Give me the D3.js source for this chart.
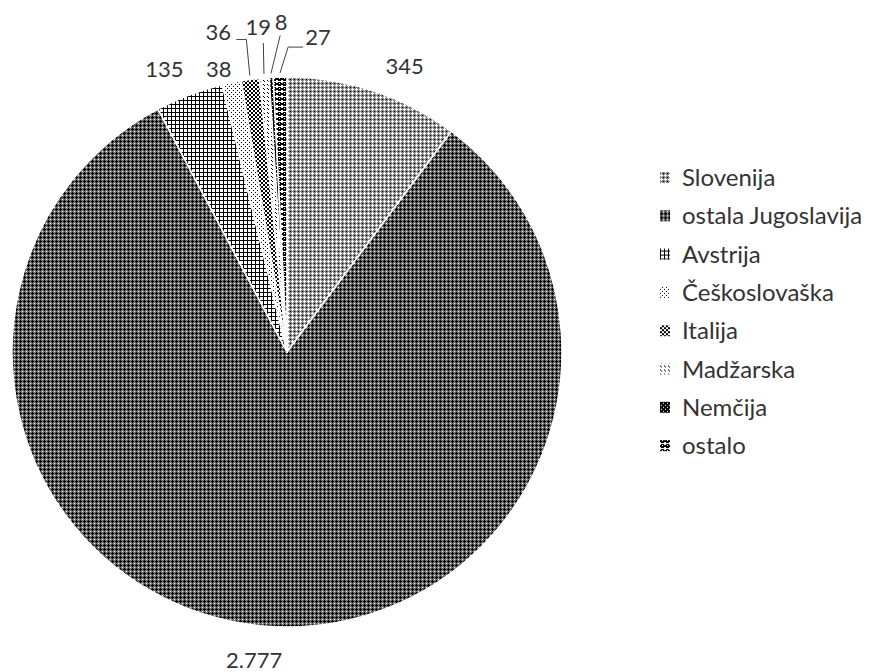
<!DOCTYPE html>
<html>
<head>
<meta charset="utf-8">
<script src="https://cdn.jsdelivr.net/npm/d3@7"></script>
<style>
  body { margin: 0; background: #fff; }
  text { font-family: Lato, "Noto Sans", sans-serif; fill: #333; }
</style>
</head>
<body>
<div id="chart"></div>
<script>
var categories = ["Slovenija", "ostala Jugoslavija", "Avstrija", "Češkoslovaška", "Italija", "Madžarska", "Nemčija", "ostalo"];
var values = [345, 2777, 135, 38, 36, 19, 8, 27];

var width = 871, height = 672;
var cx = 287, cy = 352, R = 275;

// slovene number format: 2.777
var fmt = d3.formatLocale({decimal: ",", thousands: ".", grouping: [3], currency: ["", ""]}).format(",");

// label offsets from the outer edge of each slice (label centre x, baseline y)
var labelShift = [[31, -17], [-12, 42], [-25, -18], [-13, -6], [-32, -39], [-6, -43], [10, -47], [38, -32]];
// leader lines: [elbow, end] relative to the label, null = no leader
var leaders = [null, null, null, null,
    [[28, -1], [18, -1]],
    [[5, 8], [5, 8]],
    [[-1, 5], [-1, 5]],
    [[-30, 2], [-15, 2]]];

// pixel patterns, one per slice
var patterns = [
    ["gwgg", "wwwg", "gwgg", "gggk"],
    ["hkhh", "kkkh", "hkhh", "hhhw"],
    ["kkkk", "kwww", "kwww", "kwww"],
    ["kwww", "wwww", "wwkw", "wwww"],
    ["kkww", "kkww", "wwkk", "wwkk"],
    ["kwww", "wkww", "wwww", "wwww"],
    ["kkkk", "kwkk", "kkkk", "kkkw"],
    ["wkkkw", "kkwkk", "kkkkk", "wkkkw", "wwwww"]
];
var pixColor = {w: "#ffffff", k: "#000000", g: "#858585", h: "#707070"};

var svg = d3.select("#chart").append("svg")
    .attr("width", width).attr("height", height);

var defs = svg.append("defs");
patterns.forEach(function (rows, i) {
    var n = rows[0].length, m = rows.length;
    var p = defs.append("pattern")
        .attr("id", "pat" + i)
        .attr("patternUnits", "userSpaceOnUse")
        .attr("width", n).attr("height", m);
    rows.forEach(function (row, y) {
        row.split("").forEach(function (c, x) {
            p.append("rect").attr("x", x).attr("y", y)
                .attr("width", 1).attr("height", 1)
                .attr("fill", pixColor[c])
                .attr("shape-rendering", "crispEdges");
        });
    });
});

var pie = d3.pie().sort(null).value(function (d) { return d; });
var arc = d3.arc().innerRadius(0).outerRadius(R);
var arcs = pie(values);

function edgePoint(d, r) {
    var a = (d.startAngle + d.endAngle) / 2;
    return [cx + r * Math.sin(a), cy - r * Math.cos(a)];
}

var g = svg.append("g").attr("transform", "translate(" + cx + "," + cy + ")");
g.selectAll("path")
    .data(arcs)
    .enter()
    .append("path")
    .attr("d", arc)
    .attr("fill", function (d, i) { return "url(#pat" + i + ")"; })
    .attr("stroke", "#fff")
    .attr("stroke-width", 1.5)
    .attr("stroke-linejoin", "round");

// data labels
arcs.forEach(function (d, i) {
    var p = edgePoint(d, R);
    var lx = p[0] + labelShift[i][0], ly = p[1] + labelShift[i][1];
    svg.append("text")
        .attr("x", lx).attr("y", ly)
        .attr("text-anchor", "middle")
        .style("font-size", "22px")
        .text(fmt(values[i]));
    if (leaders[i]) {
        var s = edgePoint(d, R + 4);
        var pts = [s,
            [lx + leaders[i][0][0], ly + leaders[i][0][1]],
            [lx + leaders[i][1][0], ly + leaders[i][1][1]]];
        svg.append("path")
            .attr("d", d3.line()(pts))
            .attr("fill", "none")
            .attr("stroke", "#404040")
            .attr("stroke-width", 1);
    }
});

// legend
var legend = svg.append("g").attr("transform", "translate(660,186)");
var items = legend.selectAll("g")
    .data(categories)
    .enter()
    .append("g")
    .attr("transform", function (d, i) { return "translate(0," + (i * 38.3) + ")"; });
items.append("rect")
    .attr("x", 0).attr("y", -14)
    .attr("width", 10).attr("height", 11)
    .attr("fill", function (d, i) { return "url(#pat" + i + ")"; });
items.append("text")
    .attr("x", 22).attr("y", 0)
    .style("font-size", "24px")
    .text(function (d) { return d; });
</script>
</body>
</html>
